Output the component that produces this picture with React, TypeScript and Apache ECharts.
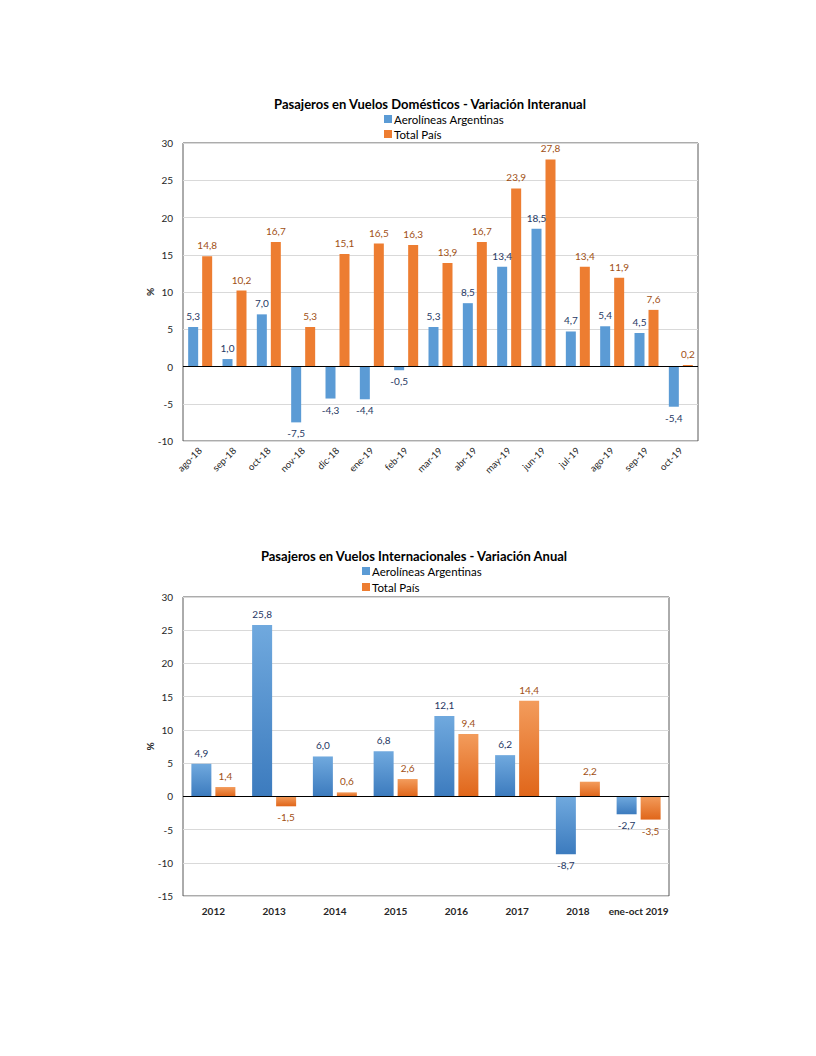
import React, { useEffect, useRef } from "react";
import * as echarts from "echarts";

const domCategories = ["ago-18", "sep-18", "oct-18", "nov-18", "dic-18", "ene-19", "feb-19", "mar-19", "abr-19", "may-19", "jun-19", "jul-19", "ago-19", "sep-19", "oct-19"];
const domAerolineas = [5.3, 1.0, 7.0, -7.5, -4.3, -4.4, -0.5, 5.3, 8.5, 13.4, 18.5, 4.7, 5.4, 4.5, -5.4];
const domTotal = [14.8, 10.2, 16.7, 5.3, 15.1, 16.5, 16.3, 13.9, 16.7, 23.9, 27.8, 13.4, 11.9, 7.6, 0.2];

const intCategories = ["2012", "2013", "2014", "2015", "2016", "2017", "2018", "ene-oct 2019"];
const intAerolineas = [4.9, 25.8, 6.0, 6.8, 12.1, 6.2, -8.7, -2.7];
const intTotal = [1.4, -1.5, 0.6, 2.6, 9.4, 14.4, 2.2, -3.5];

const FONT = "Lato, 'Open Sans', sans-serif";
const BLUE_LABEL = "#1F3864";
const ORANGE_LABEL = "#A04F14";

const fmt = (v: number) => v.toFixed(1).replace(".", ",");

const withLabels = (vals: number[], color: string) =>
  vals.map((v) => ({
    value: v,
    label: {
      show: true,
      position: v < 0 ? "bottom" : "top",
      distance: 6,
      color,
      fontSize: 10,
      fontFamily: FONT,
      formatter: () => fmt(v),
    },
  }));

export default function App() {
  const ref = useRef<HTMLDivElement>(null);
  useEffect(() => {
    if (!ref.current) return;
    const chart = echarts.init(ref.current, undefined, { renderer: "svg" });
    const blueGrad = new echarts.graphic.LinearGradient(0, 0, 0, 1, [
      { offset: 0, color: "#70A9DE" },
      { offset: 1, color: "#3C7BBE" },
    ]);
    const orangeGrad = new echarts.graphic.LinearGradient(0, 0, 0, 1, [
      { offset: 0, color: "#F39C5C" },
      { offset: 1, color: "#E0661A" },
    ]);
    const zeroLine = {
      silent: true,
      symbol: "none",
      label: { show: false },
      lineStyle: { color: "#000", width: 1, type: "solid" },
      data: [{ yAxis: 0 }],
    };
    const axisLabelStyle = { color: "#262626", fontSize: 10, fontFamily: FONT };
    const legendText = { fontSize: 11.5, lineHeight: 12, color: "#000", fontFamily: FONT, padding: [0, 0, 0, -3] };
    chart.setOption({
      animation: false,
      textStyle: { fontFamily: FONT },
      title: [
        {
          text: "Pasajeros en Vuelos Domésticos - Variación Interanual",
          left: 425,
          top: 92,
          textAlign: "center",
          textStyle: { fontSize: 13, fontWeight: "bold", color: "#000", fontFamily: FONT },
        },
        {
          text: "Pasajeros en Vuelos Internacionales - Variación Anual",
          left: 409,
          top: 544,
          textAlign: "center",
          textStyle: { fontSize: 13, fontWeight: "bold", color: "#000", fontFamily: FONT },
        },
      ],
      legend: [
        {
          orient: "vertical",
          left: 384,
          top: 113,
          padding: 0,
          itemWidth: 8,
          itemHeight: 8,
          itemGap: 3,
          icon: "rect",
          textStyle: legendText,
          data: ["Aerolíneas Argentinas", "Total País"],
        },
        {
          orient: "vertical",
          left: 362,
          top: 565,
          padding: 0,
          itemWidth: 8,
          itemHeight: 8,
          itemGap: 4,
          icon: "rect",
          textStyle: legendText,
          data: [
            { name: "Aerolíneas Argentinas ", itemStyle: { color: "#5B9BD5" } },
            { name: "Total País ", itemStyle: { color: "#ED7D31" } },
          ],
          formatter: (n: string) => n.trim(),
        },
      ],
      grid: [
        { left: 183, top: 143, width: 515, height: 298, show: true, borderColor: "#595959", borderWidth: 1, containLabel: false },
        { left: 183, top: 597, width: 486, height: 299, show: true, borderColor: "#595959", borderWidth: 1, containLabel: false },
      ],
      xAxis: [
        {
          type: "category",
          gridIndex: 0,
          data: domCategories,
          axisLine: { show: false, onZero: false },
          axisTick: { show: false },
          axisLabel: { ...axisLabelStyle, fontSize: 9.5, rotate: 45, margin: 8, interval: 0 },
        },
        {
          type: "category",
          gridIndex: 1,
          data: intCategories,
          axisLine: { show: false, onZero: false },
          axisTick: { show: false },
          axisLabel: { ...axisLabelStyle, fontWeight: "bold", margin: 10, interval: 0 },
        },
      ],
      yAxis: [
        {
          type: "value",
          gridIndex: 0,
          min: -10,
          max: 30,
          interval: 5,
          name: "%",
          nameLocation: "middle",
          nameGap: 28,
          nameMoveOverlap: false,
          nameTextStyle: { fontSize: 10, fontWeight: "bold", color: "#262626", fontFamily: FONT },
          axisLine: { show: false },
          axisTick: { show: false },
          axisLabel: { ...axisLabelStyle, margin: 10 },
          splitLine: { lineStyle: { color: "#D9D9D9", width: 1 } },
        },
        {
          type: "value",
          gridIndex: 1,
          min: -15,
          max: 30,
          interval: 5,
          name: "%",
          nameLocation: "middle",
          nameGap: 28,
          nameMoveOverlap: false,
          nameTextStyle: { fontSize: 10, fontWeight: "bold", color: "#262626", fontFamily: FONT },
          axisLine: { show: false },
          axisTick: { show: false },
          axisLabel: { ...axisLabelStyle, margin: 10 },
          splitLine: { lineStyle: { color: "#D9D9D9", width: 1 } },
        },
      ],
      series: [
        {
          name: "Aerolíneas Argentinas",
          type: "bar",
          xAxisIndex: 0,
          yAxisIndex: 0,
          barWidth: 10,
          barGap: "40%",
          itemStyle: { color: "#5B9BD5" },
          data: withLabels(domAerolineas, BLUE_LABEL),
          markLine: zeroLine,
        },
        {
          name: "Total País",
          type: "bar",
          xAxisIndex: 0,
          yAxisIndex: 0,
          barWidth: 10,
          barGap: "40%",
          itemStyle: { color: "#ED7D31" },
          data: withLabels(domTotal, ORANGE_LABEL),
        },
        {
          name: "Aerolíneas Argentinas ",
          type: "bar",
          xAxisIndex: 1,
          yAxisIndex: 1,
          barWidth: 20,
          barGap: "20%",
          itemStyle: { color: blueGrad },
          data: withLabels(intAerolineas, BLUE_LABEL),
          markLine: zeroLine,
        },
        {
          name: "Total País ",
          type: "bar",
          xAxisIndex: 1,
          yAxisIndex: 1,
          barWidth: 20,
          barGap: "20%",
          itemStyle: { color: orangeGrad },
          data: withLabels(intTotal, ORANGE_LABEL),
        },
      ],
    });
    return () => chart.dispose();
  }, []);
  return (
    <div
      ref={ref}
      style={{ position: "absolute", left: 0, top: 0, width: 816, height: 1056, background: "#fff" }}
    />
  );
}
